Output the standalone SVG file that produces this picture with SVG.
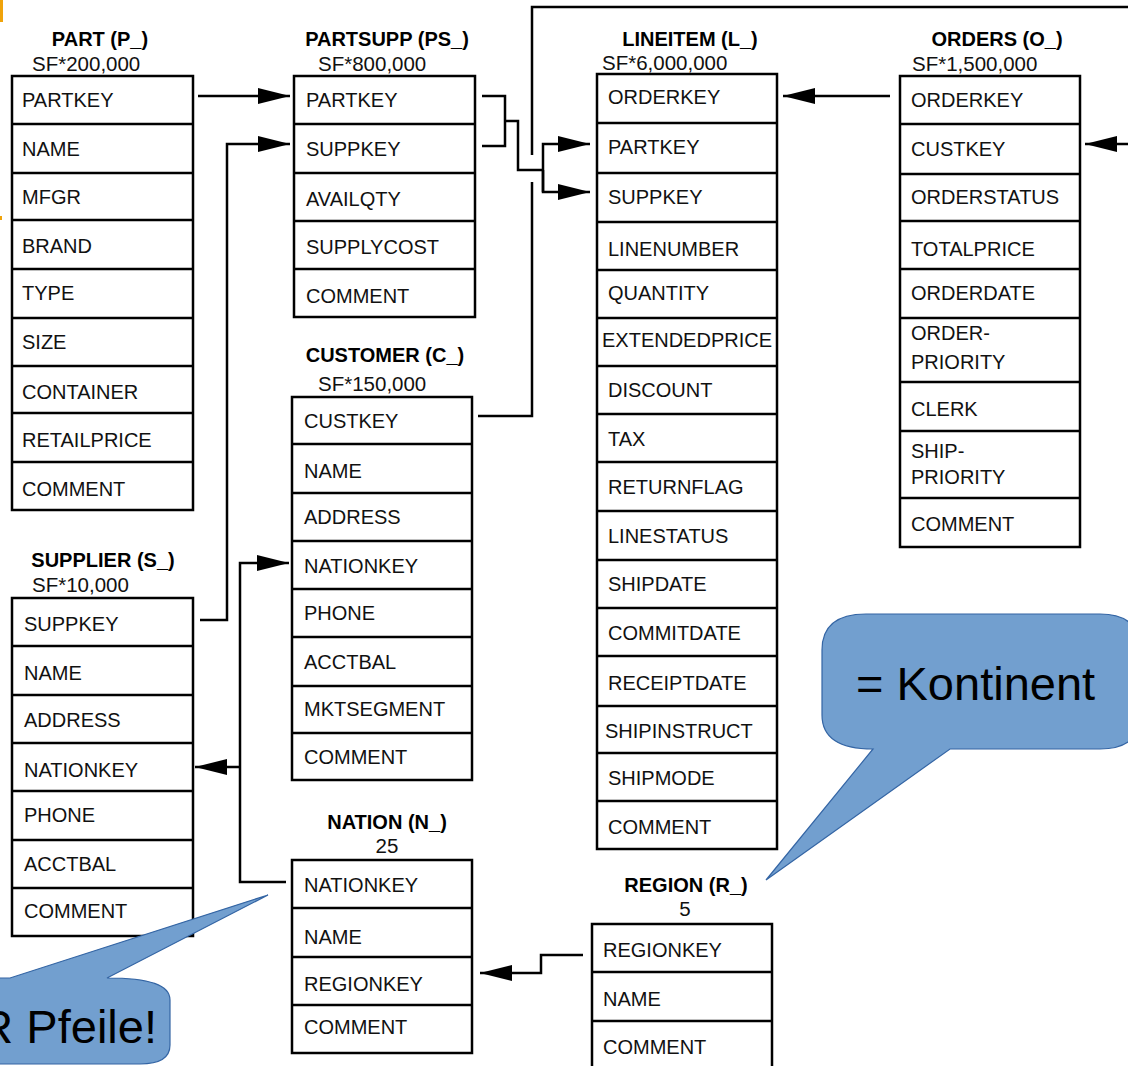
<svg xmlns="http://www.w3.org/2000/svg" width="1128" height="1066" viewBox="0 0 1128 1066">
<style>
.box{fill:#fff;stroke:#000;stroke-width:2.5}
.sep{stroke:#000;stroke-width:2.5}
.t{font-family:"Liberation Sans",Arial,sans-serif;font-size:20px;fill:#111}
.ti{font-family:"Liberation Sans",Arial,sans-serif;font-size:20px;font-weight:bold;fill:#000;text-anchor:middle}
.sf{font-family:"Liberation Sans",Arial,sans-serif;font-size:20.5px;fill:#111}
.c{fill:none;stroke:#000;stroke-width:2.5}
.call{fill:#729fcf;stroke:#3465a4;stroke-width:1.2}
.ct{font-family:"Liberation Sans",Arial,sans-serif;font-size:47px;fill:#000}
</style>
<defs>
<marker id="ah" viewBox="0 0 32 16" refX="32" refY="8" markerWidth="32" markerHeight="16" markerUnits="userSpaceOnUse" orient="auto">
<path d="M0,0 L32,8 L0,16 z" fill="#000"/>
</marker>
</defs>
<rect x="0" y="0" width="3" height="22" fill="#f0a30a"/>
<rect x="0" y="216" width="2" height="4" fill="#f0a30a"/>

<g id="part">
<text class="ti" x="100" y="46">PART (P_)</text>
<text class="sf" x="32" y="71">SF*200,000</text>
<rect class="box" x="12" y="76" width="181" height="434"/>
<path class="sep" d="M12,124H193M12,173H193M12,220H193M12,269H193M12,318H193M12,366H193M12,413H193M12,462H193"/>
<text class="t" x="22" y="107">PARTKEY</text>
<text class="t" x="22" y="156">NAME</text>
<text class="t" x="22" y="204">MFGR</text>
<text class="t" x="22" y="253">BRAND</text>
<text class="t" x="22" y="300">TYPE</text>
<text class="t" x="22" y="349">SIZE</text>
<text class="t" x="22" y="399">CONTAINER</text>
<text class="t" x="22" y="447">RETAILPRICE</text>
<text class="t" x="22" y="496">COMMENT</text>
</g>

<g id="partsupp">
<text class="ti" x="387" y="46">PARTSUPP (PS_)</text>
<text class="sf" x="318" y="71">SF*800,000</text>
<rect class="box" x="294" y="76" width="181" height="241"/>
<path class="sep" d="M294,124H475M294,173H475M294,221H475M294,269H475"/>
<text class="t" x="306" y="107">PARTKEY</text>
<text class="t" x="306" y="156">SUPPKEY</text>
<text class="t" x="306" y="206">AVAILQTY</text>
<text class="t" x="306" y="254">SUPPLYCOST</text>
<text class="t" x="306" y="303">COMMENT</text>
</g>

<g id="lineitem">
<text class="ti" x="690" y="46">LINEITEM (L_)</text>
<text class="sf" x="602" y="70">SF*6,000,000</text>
<rect class="box" x="597" y="74" width="180" height="775"/>
<path class="sep" d="M597,123H777M597,173H777M597,222H777M597,270H777M597,318H777M597,366H777M597,414H777M597,462H777M597,511H777M597,560H777M597,608H777M597,656H777M597,706H777M597,753H777M597,801H777"/>
<text class="t" x="608" y="104">ORDERKEY</text>
<text class="t" x="608" y="154">PARTKEY</text>
<text class="t" x="608" y="204">SUPPKEY</text>
<text class="t" x="608" y="256">LINENUMBER</text>
<text class="t" x="608" y="300">QUANTITY</text>
<text class="t" x="602" y="347">EXTENDEDPRICE</text>
<text class="t" x="608" y="397">DISCOUNT</text>
<text class="t" x="608" y="446">TAX</text>
<text class="t" x="608" y="494">RETURNFLAG</text>
<text class="t" x="608" y="543">LINESTATUS</text>
<text class="t" x="608" y="591">SHIPDATE</text>
<text class="t" x="608" y="640">COMMITDATE</text>
<text class="t" x="608" y="690">RECEIPTDATE</text>
<text class="t" x="605" y="738">SHIPINSTRUCT</text>
<text class="t" x="608" y="785">SHIPMODE</text>
<text class="t" x="608" y="834">COMMENT</text>
</g>

<g id="orders">
<text class="ti" x="997" y="46">ORDERS (O_)</text>
<text class="sf" x="912" y="71">SF*1,500,000</text>
<rect class="box" x="900" y="76" width="180" height="471"/>
<path class="sep" d="M900,124H1080M900,174H1080M900,221H1080M900,269H1080M900,318H1080M900,382H1080M900,431H1080M900,498H1080"/>
<text class="t" x="911" y="107">ORDERKEY</text>
<text class="t" x="911" y="156">CUSTKEY</text>
<text class="t" x="911" y="204">ORDERSTATUS</text>
<text class="t" x="911" y="256">TOTALPRICE</text>
<text class="t" x="911" y="300">ORDERDATE</text>
<text class="t" x="911" y="340">ORDER-</text>
<text class="t" x="911" y="369">PRIORITY</text>
<text class="t" x="911" y="416">CLERK</text>
<text class="t" x="911" y="458">SHIP-</text>
<text class="t" x="911" y="484">PRIORITY</text>
<text class="t" x="911" y="531">COMMENT</text>
</g>

<g id="customer">
<text class="ti" x="385" y="362">CUSTOMER (C_)</text>
<text class="sf" x="318" y="391">SF*150,000</text>
<rect class="box" x="292" y="397" width="180" height="383"/>
<path class="sep" d="M292,444H472M292,493H472M292,541H472M292,589H472M292,637H472M292,686H472M292,733H472"/>
<text class="t" x="304" y="428">CUSTKEY</text>
<text class="t" x="304" y="478">NAME</text>
<text class="t" x="304" y="524">ADDRESS</text>
<text class="t" x="304" y="573">NATIONKEY</text>
<text class="t" x="304" y="620">PHONE</text>
<text class="t" x="304" y="669">ACCTBAL</text>
<text class="t" x="304" y="716">MKTSEGMENT</text>
<text class="t" x="304" y="764">COMMENT</text>
</g>

<g id="supplier">
<text class="ti" x="103" y="567">SUPPLIER (S_)</text>
<text class="sf" x="32" y="592">SF*10,000</text>
<rect class="box" x="12" y="598" width="181" height="338"/>
<path class="sep" d="M12,646H193M12,695H193M12,743H193M12,791H193M12,840H193M12,888H193"/>
<text class="t" x="24" y="631">SUPPKEY</text>
<text class="t" x="24" y="680">NAME</text>
<text class="t" x="24" y="727">ADDRESS</text>
<text class="t" x="24" y="777">NATIONKEY</text>
<text class="t" x="24" y="822">PHONE</text>
<text class="t" x="24" y="871">ACCTBAL</text>
<text class="t" x="24" y="918">COMMENT</text>
</g>

<g id="nation">
<text class="ti" x="387" y="829">NATION (N_)</text>
<text class="sf" x="387" y="853" text-anchor="middle">25</text>
<rect class="box" x="292" y="860" width="180" height="193"/>
<path class="sep" d="M292,908H472M292,957H472M292,1005H472"/>
<text class="t" x="304" y="892">NATIONKEY</text>
<text class="t" x="304" y="944">NAME</text>
<text class="t" x="304" y="991">REGIONKEY</text>
<text class="t" x="304" y="1034">COMMENT</text>
</g>

<g id="region">
<text class="ti" x="686" y="892">REGION (R_)</text>
<text class="sf" x="685" y="916" text-anchor="middle">5</text>
<rect class="box" x="592" y="924" width="180" height="148"/>
<path class="sep" d="M592,972H772M592,1021H772"/>
<text class="t" x="603" y="957">REGIONKEY</text>
<text class="t" x="603" y="1006">NAME</text>
<text class="t" x="603" y="1054">COMMENT</text>
</g>

<g id="connectors">
<path class="c" d="M198,96H290" marker-end="url(#ah)"/>
<path class="c" d="M200,620H227V144H290" marker-end="url(#ah)"/>
<path class="c" d="M482,96H505V146H482M505,121H518V170H543"/>
<path class="c" d="M543,192V144H590" marker-end="url(#ah)"/>
<path class="c" d="M543,170V192H590" marker-end="url(#ah)"/>
<path class="c" d="M478,416H532V182M532,155V7H1128"/>
<path class="c" d="M1128,144H1085" marker-end="url(#ah)"/>
<path class="c" d="M890,96H783" marker-end="url(#ah)"/>
<path class="c" d="M286,882H240V563H289" marker-end="url(#ah)"/>
<path class="c" d="M240,767H195" marker-end="url(#ah)"/>
<path class="c" d="M583,955H541V973H480" marker-end="url(#ah)"/>
</g>

<g id="callout-kontinent">
<path class="call" d="M866,614 L1100,614 Q1140,614 1140,650 L1140,715 Q1140,749 1100,749 L950,749 L766,880 L873,749 Q822,749 822,715 L822,650 Q822,614 866,614 Z"/>
<text class="ct" x="856" y="700">= Kontinent</text>
</g>

<g id="callout-pfeile">
<path class="call" d="M-60,978 L10,978 L268,895 L107,978 C150,978 170,985 170,1000 L170,1045 Q170,1064 140,1064 L-60,1064 Z"/>
<text class="ct" x="157" y="1043" text-anchor="end">R Pfeile!</text>
</g>
</svg>
